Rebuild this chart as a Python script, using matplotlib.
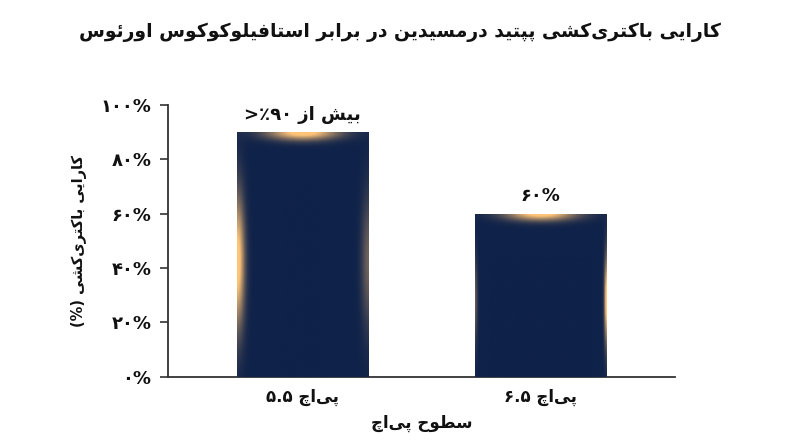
import numpy as np
import matplotlib
matplotlib.use("Agg")
import matplotlib.pyplot as plt
from matplotlib.colors import to_rgb

plt.rcParams['font.family'] = ['DejaVu Sans']

# --- a tiny persian shaper (no arabic_reshaper here) ---
# char: (isolated, final, initial, medial); None -> right-joining only
FORMS = {
    '\u0627': (0xFE8D, 0xFE8E, None, None),  # ا
    '\u0628': (0xFE8F, 0xFE90, 0xFE91, 0xFE92),  # ب
    '\u067E': (0xFB56, 0xFB57, 0xFB58, 0xFB59),  # پ
    '\u062A': (0xFE95, 0xFE96, 0xFE97, 0xFE98),  # ت
    '\u0686': (0xFB7A, 0xFB7B, 0xFB7C, 0xFB7D),  # چ
    '\u062D': (0xFEA1, 0xFEA2, 0xFEA3, 0xFEA4),  # ح
    '\u062F': (0xFEA9, 0xFEAA, None, None),  # د
    '\u0631': (0xFEAD, 0xFEAE, None, None),  # ر
    '\u0632': (0xFEAF, 0xFEB0, None, None),  # ز
    '\u0633': (0xFEB1, 0xFEB2, 0xFEB3, 0xFEB4),  # س
    '\u0634': (0xFEB5, 0xFEB6, 0xFEB7, 0xFEB8),  # ش
    '\u0637': (0xFEC1, 0xFEC2, 0xFEC3, 0xFEC4),  # ط
    '\u0641': (0xFED1, 0xFED2, 0xFED3, 0xFED4),  # ف
    '\u06A9': (0xFB8E, 0xFB8F, 0xFB90, 0xFB91),  # ک
    '\u0644': (0xFEDD, 0xFEDE, 0xFEDF, 0xFEE0),  # ل
    '\u0645': (0xFEE1, 0xFEE2, 0xFEE3, 0xFEE4),  # م
    '\u0646': (0xFEE5, 0xFEE6, 0xFEE7, 0xFEE8),  # ن
    '\u0648': (0xFEED, 0xFEEE, None, None),  # و
    '\u06CC': (0xFBFC, 0xFBFD, 0xFBFE, 0xFBFF),  # ی
    '\u0626': (0xFE89, 0xFE8A, 0xFE8B, 0xFE8C),  # ئ
}


def dual(c):
    return c in FORMS and FORMS[c][2] is not None


def fa(text):
    out = []
    for i, c in enumerate(text):
        if c == '\u200c':
            continue
        if c not in FORMS:
            out.append(c)
            continue
        prev = text[i - 1] if i > 0 else ''
        nxt = text[i + 1] if i + 1 < len(text) else ''
        jp = dual(prev)
        jn = dual(c) and nxt in FORMS
        f = FORMS[c]
        if jp and jn:
            out.append(chr(f[3]))
        elif jp:
            out.append(chr(f[1]))
        elif jn:
            out.append(chr(f[2]))
        else:
            out.append(chr(f[0]))
    return ''.join(out)[::-1]


# --- data ---
title = 'کارایی باکتری\u200cکشی پپتید درمسیدین در برابر استافیلوکوکوس اورئوس'
ylab = 'کارایی باکتری\u200cکشی'
xlab = 'سطوح پی\u200cاچ'
ph_word = 'پی\u200cاچ'
ph_vals = ['۵.۵', '۶.۵']
efficacy = [0.90, 0.60]
bar_notes = ['>٪۹۰ ' + fa('بیش از'), '۶۰%']
yticks = [0, 0.2, 0.4, 0.6, 0.8, 1.0]
ytick_labels = ['۰%', '۲۰%', '۴۰%', '۶۰%', '۸۰%', '۱۰۰%']

# glow strength on the left / right side of each bar (style only)
side_glow = [(1.0, 0.45), (0.4, 1.0)]

navy = np.array(to_rgb('#0f2249'))
glow = np.array([255, 196, 120]) / 255.0
ink = '#111111'

fig = plt.figure(figsize=(8, 4.47), dpi=100)
ax = fig.add_axes([0.21, 0.157, 0.634, 0.608])

x = np.arange(len(efficacy))
bars = ax.bar(x, efficacy, width=0.55, color=navy, zorder=2)

# glowing fill inside each bar
fig.canvas.draw()
for b, (gl, gr) in zip(bars, side_glow):
    x0, y0 = b.get_x(), b.get_y()
    w, h = b.get_width(), b.get_height()
    ext = ax.transData.transform([[x0, y0], [x0 + w, y0 + h]])
    wpx, hpx = abs(ext[1] - ext[0])
    u = np.linspace(0, 1, 200)[None, :]
    v = np.linspace(0, 1, 300)[:, None]
    top = np.exp(-((1 - v) * hpx / 9.0) ** 2) * np.exp(-((u - 0.5) / 0.3) ** 2)
    side = (gl * np.exp(-(u * wpx / 10.0) ** 2) + gr * np.exp(-((1 - u) * wpx / 10.0) ** 2)) \
        * np.exp(-((v - 0.47) / 0.3) ** 2)
    g = np.clip(1.1 * (top + side), 0, 1) ** 1.3
    g = g[..., None]
    img = navy * (1 - g) + glow * g
    im = ax.imshow(img, extent=(x0, x0 + w, y0, y0 + h), origin='lower',
                   aspect='auto', interpolation='bilinear', zorder=3)
    im.set_clip_path(b)

ax.set_xlim(-0.563, 1.563)
ax.set_ylim(0, 1.0)

for xi, val, note in zip(x, efficacy, bar_notes):
    ax.annotate(note, (xi, val), xytext=(0, 6), textcoords='offset points',
                ha='center', va='bottom', fontsize=13, fontweight='bold', color=ink)

ax.set_yticks(yticks)
ax.set_yticklabels(ytick_labels, fontsize=13, fontweight='bold', color=ink)
ax.set_xticks(x)
ax.set_xticklabels([v + ' ' + fa(ph_word) for v in ph_vals],
                   fontsize=12, fontweight='bold', color=ink)
ax.tick_params(axis='x', length=0, pad=8)
ax.tick_params(axis='y', length=6, width=1.2, color='#333333', pad=6)

for s in ['top', 'right']:
    ax.spines[s].set_visible(False)
for s in ['left', 'bottom']:
    ax.spines[s].set_color('#333333')
    ax.spines[s].set_linewidth(1.3)

ax.set_xlabel(fa(xlab), fontsize=12, fontweight='bold', color=ink, labelpad=6)
ax.set_ylabel('(%) ' + fa(ylab), fontsize=10.5, fontweight='bold', color=ink, labelpad=10)

fig.text(0.5, 1 - 32 / 447, fa(title), ha='center', va='center',
         fontsize=13.5, fontweight='bold', color=ink)

fig.savefig('out.png', dpi=100)
